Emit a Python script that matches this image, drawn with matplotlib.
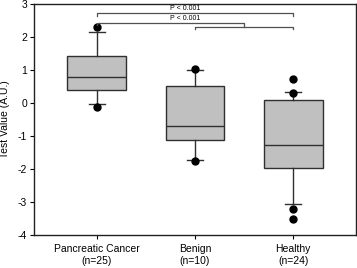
import matplotlib
matplotlib.use("Agg")
import matplotlib.pyplot as plt

plt.rcParams['font.family'] = ['Liberation Sans', 'DejaVu Sans']
plt.rcParams['axes.unicode_minus'] = False

# data
groups = ['Pancreatic Cancer\n(n=25)', 'Benign\n(n=10)', 'Healthy\n(n=24)']
q1 = [0.39, -1.12, -1.97]
med = [0.79, -0.70, -1.27]
q3 = [1.42, 0.52, 0.09]
whislo = [-0.03, -1.73, -3.06]
whishi = [2.15, 1.00, 0.33]
outliers = [[2.29, -0.12], [1.02, -1.76], [0.30, 0.73, -3.20, -3.50]]

stats = []
for i in range(len(groups)):
    stats.append(dict(q1=q1[i], med=med[i], q3=q3[i], whislo=whislo[i],
                      whishi=whishi[i], fliers=outliers[i]))

fig = plt.figure(figsize=(3.57, 2.68), dpi=100)
ax = fig.add_axes([34/357, 33/268, 322/357, 231/268])

dark = '#303030'
ax.bxp(stats, positions=[1, 2, 3], widths=0.6, capwidths=0.16, patch_artist=True,
       boxprops=dict(facecolor='#c0c0c0', edgecolor=dark, linewidth=1.0),
       medianprops=dict(color=dark, linewidth=1.0),
       whiskerprops=dict(color=dark, linewidth=1.0),
       capprops=dict(color=dark, linewidth=1.0),
       flierprops=dict(marker='o', markerfacecolor='black', markeredgecolor='black',
                       markersize=5))

ax.set_xlim(0.36, 3.64)
ax.set_ylim(-4, 3)
ax.set_yticks(range(-4, 4))
ax.set_xticks([1, 2, 3])
ax.set_xticklabels(groups, fontsize=7.5)
ax.tick_params(axis='y', labelsize=7.5, length=3, width=0.8, pad=2)
ax.tick_params(axis='x', length=3, width=0.8)
ax.set_ylabel('Test Value (A.U.)', fontsize=7.5)
ax.yaxis.set_label_coords(-0.075, 0.5)
for s in ax.spines.values():
    s.set_linewidth(1.0)
    s.set_color('#202020')

# significance brackets
bc = '#505050'
ax.plot([1, 1, 3, 3], [2.64, 2.73, 2.73, 2.64], color=bc, lw=0.9)
ax.text(1.9, 2.76, 'P < 0.001', ha='center', va='bottom', fontsize=5)
ax.plot([2, 2, 3, 3], [2.24, 2.30, 2.30, 2.24], color=bc, lw=0.9)
ax.plot([1, 1, 2.5, 2.5], [2.36, 2.42, 2.42, 2.30], color=bc, lw=0.9)
ax.text(1.9, 2.45, 'P < 0.001', ha='center', va='bottom', fontsize=5)

fig.savefig('out.png', dpi=100)
